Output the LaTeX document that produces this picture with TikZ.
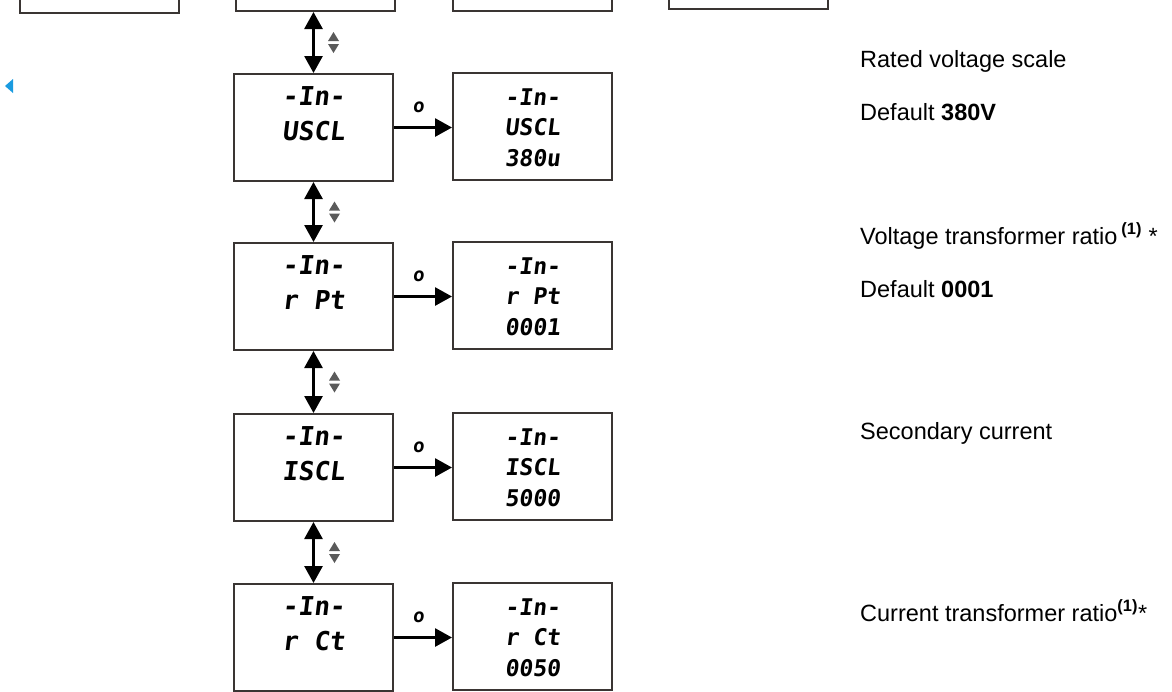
\documentclass[tikz,border=0pt]{standalone}
\usepackage{fontspec}
\setmainfont{Liberation Sans}
\newfontfamily\lcdfont[FakeSlant=0.12]{DejaVu Sans Mono Bold}
\usetikzlibrary{arrows.meta,positioning,calc}
\definecolor{boxgray}{HTML}{3A3533}
\definecolor{keygray}{HTML}{5A5A5A}
\definecolor{navblue}{HTML}{1A9BE0}
\tikzset{
  lcdbox/.style={draw=boxgray, line width=2pt, minimum width=159pt, minimum height=107pt, inner sep=0pt},
  lcdbig/.style={font=\lcdfont\fontsize{26}{26}\selectfont, inner sep=0pt, anchor=base},
  lcdsmall/.style={font=\lcdfont\fontsize{23}{23}\selectfont, inner sep=0pt, anchor=base},
  updown/.style={{Triangle[length=17pt,width=18pt]}-{Triangle[length=17pt,width=18pt]}, line width=2.8pt},
  okarrow/.style={-{Triangle[length=17pt,width=18pt]}, line width=2.8pt},
  oklabel/.style={above=13pt, font=\lcdfont\fontsize{19}{19}\selectfont, inner sep=0pt},
  desc/.style={anchor=base west, inner sep=0pt, font=\fontsize{23.5}{28}\selectfont},
}

\begin{document}
\begin{tikzpicture}[x=1pt, y=-1pt]
    \useasboundingbox (0,0) rectangle (1172,691);

    % Previous menu row, cut off by the page top
    \begin{scope}
        \clip (0,0) rectangle (1172,691);
        \node[lcdbox, anchor=south west] (top1) at (19,14) {};
        \node[lcdbox, anchor=south west] (top2) at (235,12) {};
        \node[lcdbox, anchor=south west] (top3) at (452,12) {};
        \node[lcdbox, anchor=south west] (top4) at (668,10) {};
    \end{scope}

    % Back marker
    \fill[navblue] (5,86) -- (13,79) -- (13,93) -- cycle;

    % Setting rows: menu screen and value screen
    \foreach \i/\yy/\code/\val in {1/73/USCL/380u, 2/242/r Pt/0001, 3/413/ISCL/5000, 4/583/r Ct/0050} {
        \node[lcdbox, anchor=north west] (set\i) at (233,\yy) {};
        \node[lcdbox, anchor=north west] (val\i) at (452,\yy-1) {};
        \node[lcdbig] (setA\i) at ($(set\i.north)+(0,32)$) {-In-};
        \node[lcdbig] (setB\i) at ($(set\i.north)+(0,67)$) {\code};
        \node[lcdsmall] (valA\i) at ($(val\i.north)+(0,33)$) {-In-};
        \node[lcdsmall] (valB\i) at ($(val\i.north)+(0,63)$) {\code};
        \node[lcdsmall] (valC\i) at ($(val\i.north)+(0,94)$) {\val};
        \draw[okarrow] (set\i.east) -- node[oklabel, pos=0.42] (ok\i) {o} (set\i.east -| val\i.west);
    }

    % Up/down navigation between rows
    \draw[updown] (set1.north |- top2.south) -- (set1.north);
    \coordinate (key0) at ($(top2.south)!0.5!(set1.north)+(19,0)$);
    \foreach \i/\j in {1/2, 2/3, 3/4} {
        \draw[updown] (set\i.south) -- (set\j.north);
        \coordinate (key\i) at ($(set\i.south)!0.5!(set\j.north)+(21,0)$);
    }
    \foreach \k in {0,...,3} {
        \fill[keygray] ($(key\k)+(-5.5,-1.5)$) -- ++(11,0) -- ++(-5.5,-9) -- cycle;
        \fill[keygray] ($(key\k)+(-5.5,1.5)$) -- ++(11,0) -- ++(-5.5,9) -- cycle;
    }

    % Descriptions
    \node[desc] (d1) at (860,67) {Rated voltage scale};
    \node[desc] (d2) at (860,120) {Default \textbf{380V}};
    \node[desc] (d3) at (860,244) {Voltage transformer ratio\,\textsuperscript{\textbf{(1)}} *};
    \node[desc] (d4) at (860,297) {Default \textbf{0001}};
    \node[desc] (d5) at (860,439) {Secondary current};
    \node[desc] (d6) at (860,621) {Current transformer ratio\textsuperscript{\textbf{(1)}}*};
\end{tikzpicture}
\end{document}
